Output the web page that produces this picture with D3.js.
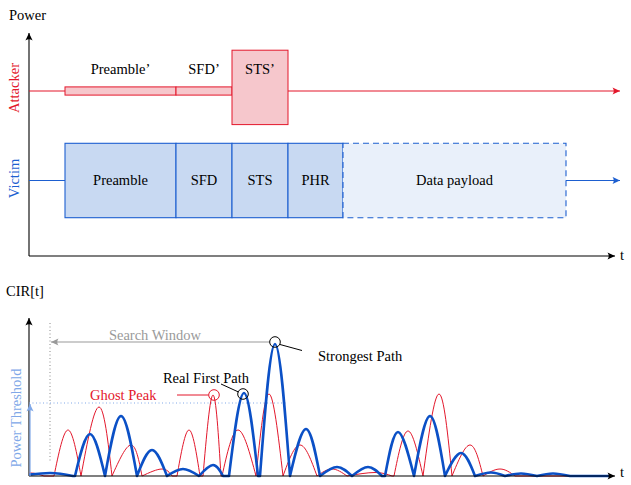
<!DOCTYPE html>
<html>
<head>
<meta charset="utf-8">
<script src="https://cdn.jsdelivr.net/npm/d3@7"></script>
<style>
  html, body { margin: 0; padding: 0; background: #fff; }
  svg { display: block; }
  text { font-family: "Liberation Serif", "DejaVu Serif", serif; font-size: 14.5px; }
</style>
</head>
<body>
<svg id="chart" width="631" height="485"></svg>
<script>
// ---- Packet layout (time units along the top axis) ----
const victimFields   = ["Preamble", "SFD", "STS", "PHR", "Data payload"];
const victimStarts   = [36, 147, 203, 259, 314];
const victimEnds     = [147, 203, 259, 314, 537];
const victimPower    = [1, 1, 1, 1, 1];
const attackerFields = ["Preamble’", "SFD’", "STS’"];
const attackerStarts = [36, 147, 203];
const attackerEnds   = [147, 203, 259];
const attackerPower  = [0.11, 0.11, 1];

// ---- CIR humps: [zero before, peak time, zero after, amplitude] ----
const victimCIR = [
  [-11, 21, 44, 3], [46, 61, 76, 42], [76, 92, 108, 60], [108, 123, 138, 26],
  [138, 154, 170, 7], [170, 184, 194, 11], [200, 215, 229, 83], [231, 246, 261, 132],
  [261, 277, 291, 47], [291, 308, 323, 9], [323, 339, 353, 9], [356, 369, 385, 44],
  [385, 401, 416, 60], [416, 432, 446, 23], [446, 462, 476, 3.5], [476, 492, 508, 2.5],
  [508, 524, 541, 2.5]
];
const attackerCIR = [
  [-7, 2, 15, 3], [25, 39, 52, 46], [52, 70, 83, 69], [83, 102, 113, 31],
  [113, 133, 143, 7], [148, 160, 171, 46], [174, 184, 192, 81], [193, 209, 227, 46],
  [227, 240, 254, 82], [254, 271, 288, 31], [288, 303, 318, 7], [318, 346, 363, 3.5],
  [365, 379, 394, 45], [394, 410, 423, 82], [423, 441, 454, 31], [454, 471, 486, 7]
];
const powerThreshold = 73;
const searchWindowStart = 21;
const ghostPeakIndex = 6;      // attacker hump flagged as ghost peak
const realFirstIndex = 6;      // victim hump of the real first path
const strongestIndex = 7;      // victim hump of the strongest path

const RED = "#e3172b", PINK = "#f6c7cc";
const BLUE = "#1d5fd0", BLUE_FILL = "#c8d9f2", BLUE_LIGHT_FILL = "#e9f0fa";
const CURVE_BLUE = "#0b50c6", THRESH = "#80a8e8", GREY = "#9a9a9a";

const svg = d3.select("#chart");

// arrowhead markers
const defs = svg.append("defs");
function marker(id, color) {
  defs.append("marker").attr("id", id)
    .attr("viewBox", "-8 -4 9 8").attr("refX", 0).attr("refY", 0)
    .attr("markerWidth", 9).attr("markerHeight", 8)
    .attr("markerUnits", "userSpaceOnUse").attr("orient", "auto")
    .append("path").attr("d", "M0,0 L-7.5,-3.6 Q-5,0 -7.5,3.6 Z").attr("fill", color);
}
marker("arBlack", "#000"); marker("arRed", RED); marker("arBlue", BLUE);
marker("arGrey", GREY); marker("arThresh", THRESH);

// shared time scale
const x = d3.scaleLinear().domain([0, 586]).range([29, 615]);

// ================= Top panel: packet timelines =================
const topG = svg.append("g");
const attackerY = 91, victimY = 180.5, halfBand = 37.2;
const fullBandLift = 3.6;   // full-power attacker burst sits slightly above its track
const bandH = d3.scaleLinear().domain([0, 1]).range([0, halfBand]);

// axes
topG.append("line").attr("x1", 29).attr("y1", 256).attr("x2", 29).attr("y2", 33)
  .attr("stroke", "#000").attr("stroke-width", 1.1).attr("marker-end", "url(#arBlack)");
topG.append("line").attr("x1", 29).attr("y1", 256).attr("x2", x(586)).attr("y2", 256)
  .attr("stroke", "#000").attr("stroke-width", 1.1).attr("marker-end", "url(#arBlack)");
topG.append("text").attr("x", 9).attr("y", 20).text("Power");
topG.append("text").attr("x", 620).attr("y", 260).text("t");

// attacker track
topG.append("line").attr("x1", 29).attr("y1", attackerY).attr("x2", x(591)).attr("y2", attackerY)
  .attr("stroke", RED).attr("stroke-width", 1.1).attr("marker-end", "url(#arRed)");
attackerFields.forEach((f, i) => {
  const h = bandH(attackerPower[i]);
  const c = attackerY - (attackerPower[i] >= 1 ? fullBandLift : 0);
  topG.append("rect")
    .attr("x", x(attackerStarts[i])).attr("y", c - h)
    .attr("width", x(attackerEnds[i]) - x(attackerStarts[i])).attr("height", 2 * h)
    .attr("fill", PINK).attr("stroke", RED).attr("stroke-width", 1);
  const cx = (x(attackerStarts[i]) + x(attackerEnds[i])) / 2;
  topG.append("text").attr("x", cx).attr("y", 74).attr("text-anchor", "middle").text(f);
});
topG.append("text").attr("transform", `translate(19,${attackerY - 3}) rotate(-90)`)
  .attr("text-anchor", "middle").attr("fill", RED).text("Attacker");

// victim track
topG.append("line").attr("x1", 29).attr("y1", victimY).attr("x2", x(victimStarts[0])).attr("y2", victimY)
  .attr("stroke", BLUE).attr("stroke-width", 1.1);
topG.append("line").attr("x1", x(victimEnds[4])).attr("y1", victimY).attr("x2", x(591)).attr("y2", victimY)
  .attr("stroke", BLUE).attr("stroke-width", 1.1).attr("marker-end", "url(#arBlue)");
victimFields.forEach((f, i) => {
  const h = bandH(victimPower[i]);
  const last = i === victimFields.length - 1;
  topG.append("rect")
    .attr("x", x(victimStarts[i])).attr("y", victimY - h)
    .attr("width", x(victimEnds[i]) - x(victimStarts[i])).attr("height", 2 * h)
    .attr("fill", last ? BLUE_LIGHT_FILL : BLUE_FILL)
    .attr("stroke", BLUE).attr("stroke-width", 1.1)
    .attr("stroke-dasharray", last ? "6,4" : null);
  const cx = (x(victimStarts[i]) + x(victimEnds[i])) / 2;
  topG.append("text").attr("x", cx).attr("y", 185).attr("text-anchor", "middle").text(f);
});
topG.append("text").attr("transform", `translate(19,${victimY - 2}) rotate(-90)`)
  .attr("text-anchor", "middle").attr("fill", BLUE).text("Victim");

// ================= Bottom panel: channel impulse response =================
const y = d3.scaleLinear().domain([0, 160]).range([476, 316]);
const botG = svg.append("g");

botG.append("text").attr("x", 6).attr("y", 296).text("CIR[t]");

// y axis
botG.append("line").attr("x1", 29).attr("y1", y(0)).attr("x2", 29).attr("y2", 318)
  .attr("stroke", "#000").attr("stroke-width", 1.1).attr("marker-end", "url(#arBlack)");

// search window start marker (dotted vertical)
botG.append("line").attr("x1", x(searchWindowStart)).attr("x2", x(searchWindowStart))
  .attr("y1", 323).attr("y2", 463)
  .attr("stroke", "#888").attr("stroke-width", 1).attr("stroke-dasharray", "1,2.5");

// power threshold dotted line
botG.append("line").attr("x1", 29).attr("x2", x(258))
  .attr("y1", y(powerThreshold)).attr("y2", y(powerThreshold))
  .attr("stroke", THRESH).attr("stroke-width", 1).attr("stroke-dasharray", "1,2.5");

// CIR curves built hump by hump
const humpLine = d3.line().x(d => x(d[0])).y(d => y(d[1])).curve(d3.curveNatural);
function cirPath(humps) {
  let s = "";
  humps.forEach((h, i) => {
    const seg = humpLine([[h[0], 0], [h[1], h[3]], [h[2], 0]]);
    s += i === 0 ? seg : "L" + seg.slice(1);
  });
  return s;
}
defs.append("clipPath").attr("id", "plotClip")
  .append("rect").attr("x", 29).attr("y", 300).attr("width", 590).attr("height", 180);

const curves = botG.append("g").attr("clip-path", "url(#plotClip)");
curves.append("path").attr("d", cirPath(attackerCIR) + "L" + x(580) + "," + y(0))
  .attr("fill", "none").attr("stroke", RED).attr("stroke-width", 1).attr("stroke-linejoin", "round");
curves.append("path").attr("d", cirPath(victimCIR) + "L" + x(582) + "," + y(0))
  .attr("fill", "none").attr("stroke", CURVE_BLUE).attr("stroke-width", 2.6).attr("stroke-linejoin", "round");

// x axis
botG.append("line").attr("x1", 29).attr("y1", y(0)).attr("x2", x(586)).attr("y2", y(0))
  .attr("stroke", "#000").attr("stroke-width", 1.1).attr("marker-end", "url(#arBlack)");
botG.append("text").attr("x", 620).attr("y", 477).text("t");

// power threshold arrow on the y axis
botG.append("line").attr("x1", 30).attr("x2", 30).attr("y1", y(0)).attr("y2", y(powerThreshold) + 1)
  .attr("stroke", THRESH).attr("stroke-width", 1.2).attr("marker-end", "url(#arThresh)");
botG.append("text").attr("transform", `translate(21,418) rotate(-90)`)
  .attr("text-anchor", "middle").attr("fill", THRESH).text("Power Threshold");

// annotations
const ghost = attackerCIR[ghostPeakIndex];
const realFirst = victimCIR[realFirstIndex];
const strongest = victimCIR[strongestIndex];

// search window arrow from the strongest path back to the window start
botG.append("line").attr("x1", x(strongest[1]) - 5).attr("x2", x(searchWindowStart) + 1)
  .attr("y1", y(strongest[3]) - 2).attr("y2", y(strongest[3]) - 2)
  .attr("stroke", GREY).attr("stroke-width", 1.1).attr("marker-end", "url(#arGrey)");
botG.append("text").attr("x", 155).attr("y", 340).attr("text-anchor", "middle")
  .attr("fill", GREY).text("Search Window");

// ghost peak
botG.append("circle").attr("cx", x(ghost[1]) + 1).attr("cy", y(ghost[3]))
  .attr("r", 5.3).attr("fill", "none").attr("stroke", RED).attr("stroke-width", 1);
botG.append("line").attr("x1", 177).attr("x2", x(ghost[1]) - 4.5)
  .attr("y1", y(ghost[3])).attr("y2", y(ghost[3]))
  .attr("stroke", RED).attr("stroke-width", 1);
botG.append("text").attr("x", 90).attr("y", 400).attr("fill", RED).text("Ghost Peak");

// real first path
botG.append("circle").attr("cx", x(realFirst[1]) - 1).attr("cy", y(realFirst[3]) + 1)
  .attr("r", 5.3).attr("fill", "none").attr("stroke", "#000").attr("stroke-width", 1);
botG.append("line").attr("x1", 221).attr("y1", 384).attr("x2", x(realFirst[1]) - 5.5).attr("y2", y(realFirst[3]) - 1)
  .attr("stroke", "#000").attr("stroke-width", 1);
botG.append("text").attr("x", 206).attr("y", 383).attr("text-anchor", "middle").text("Real First Path");

// strongest path
botG.append("circle").attr("cx", x(strongest[1])).attr("cy", y(strongest[3]) - 2)
  .attr("r", 5.3).attr("fill", "none").attr("stroke", "#000").attr("stroke-width", 1);
botG.append("line").attr("x1", x(strongest[1]) + 5).attr("y1", y(strongest[3]) + 0.5)
  .attr("x2", 302).attr("y2", 350.5)
  .attr("stroke", "#000").attr("stroke-width", 1);
botG.append("text").attr("x", 318).attr("y", 361).text("Strongest Path");
</script>
</body>
</html>
